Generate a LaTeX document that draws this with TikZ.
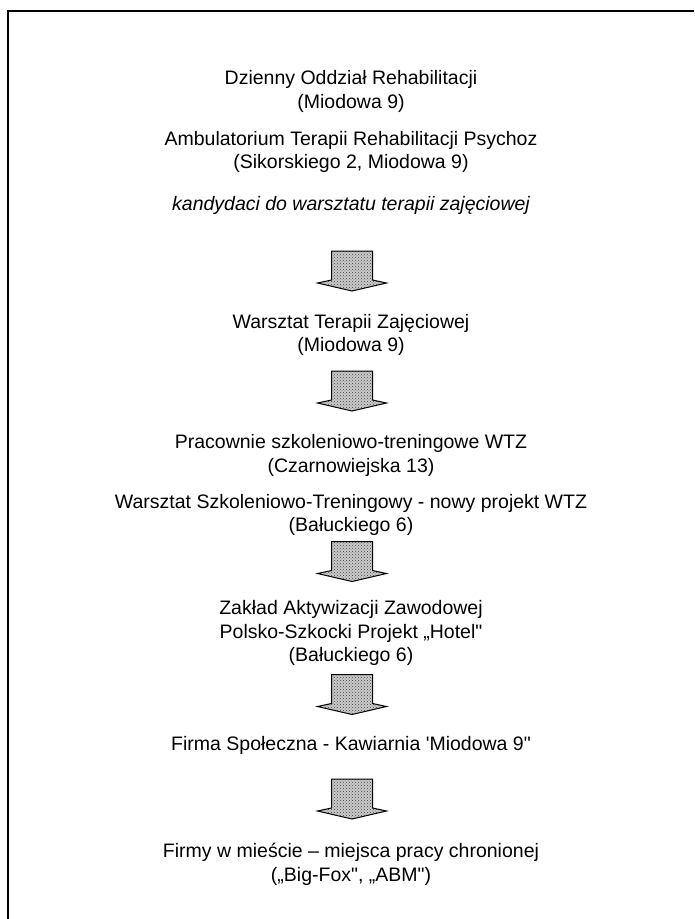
\documentclass[tikz,border=0pt]{standalone}
\usepackage{fontspec}
\setmainfont{Liberation Sans}[Ligatures=TeXOff]
\usepackage{tikz}
\usetikzlibrary{patterns, calc}

% block arrow pointing down, centred on a named coordinate
\newcommand{\flowarrow}[1]{%
  \draw[flow, shift={(#1)}] (-20.5,20) -- (20.5,20) -- (20.5,-9)
    -- (34.5,-12) -- (0,-20) -- (-34.5,-12) -- (-20.5,-9) -- cycle;}

\begin{document}
\begin{tikzpicture}[x=1pt, y=1pt,
    txt/.style={align=center, inner sep=0pt, font=\fontsize{19.5}{23.5}\selectfont},
    flow/.style={draw=black, line width=1pt, line join=miter,
      preaction={fill=gray!40}, pattern=crosshatch dots, pattern color=black!75},
    frame/.style={line width=1.6pt}]
    \useasboundingbox (0,0) rectangle (694,-919);

    % Frame
    \draw[frame] (694,-11) -- (8,-11) -- (8,-919);

    % Nodes
    \node[txt] (dor) at (351,-91.5) {Dzienny Oddział Rehabilitacji\\(Miodowa 9)};
    \node[txt] (atrp) at (351,-152) {Ambulatorium Terapii Rehabilitacji Psychoz\\(Sikorskiego 2, Miodowa 9)};
    \node[txt, font=\fontsize{19.5}{23.5}\selectfont\itshape] (kand) at (351,-205) {kandydaci do warsztatu terapii zajęciowej};
    \node[txt] (wtz) at (351,-335) {Warsztat Terapii Zajęciowej\\(Miodowa 9)};
    \node[txt] (prac) at (351,-455.5) {Pracownie szkoleniowo-treningowe WTZ\\(Czarnowiejska 13)};
    \node[txt] (wst) at (351,-515) {Warsztat Szkoleniowo-Treningowy - nowy projekt WTZ\\(Bałuckiego 6)};
    \node[txt] (zaz) at (351,-633) {Zakład Aktywizacji Zawodowej\\Polsko-Szkocki Projekt „Hotel"\\(Bałuckiego 6)};
    \node[txt] (fs) at (351,-745) {Firma Społeczna - Kawiarnia 'Miodowa 9"};
    \node[txt] (fwm) at (351,-864.5) {Firmy w mieście – miejsca pracy chronionej\\(„Big-Fox", „ABM")};

    % Arrows
    \coordinate (a1) at (352,-271);
    \coordinate (a2) at (352,-391);
    \coordinate (a3) at (352,-561.5);
    \coordinate (a4) at (352,-694.5);
    \coordinate (a5) at (352,-799);
    \flowarrow{a1}
    \flowarrow{a2}
    \flowarrow{a3}
    \flowarrow{a4}
    \flowarrow{a5}
\end{tikzpicture}
\end{document}
